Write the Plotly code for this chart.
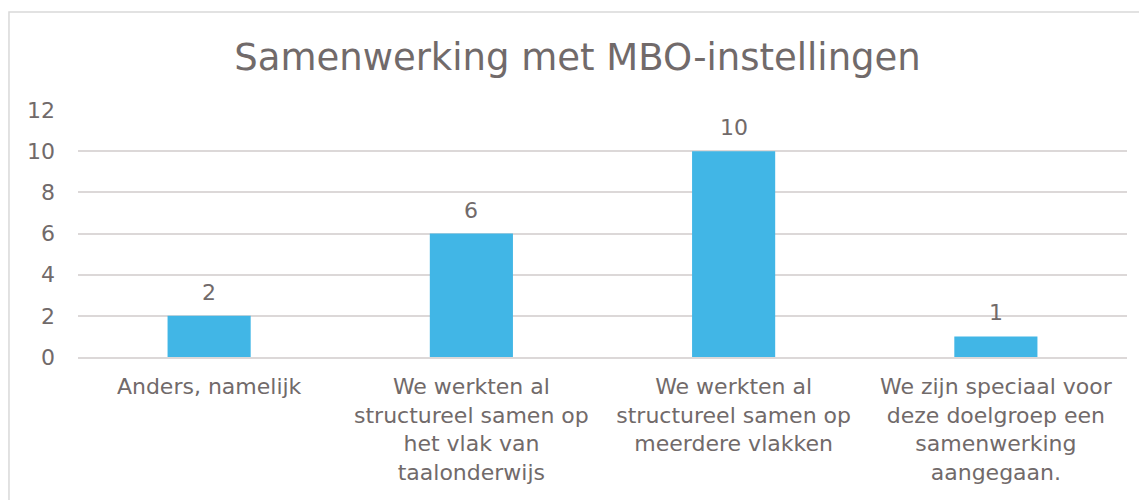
import plotly.graph_objects as go

# ----------------------------------------------------
# Data
# ----------------------------------------------------

categories = [
    "Anders, namelijk",
    "We werkten al<br>structureel samen op<br>het vlak van<br>taalonderwijs",
    "We werkten al<br>structureel samen op<br>meerdere vlakken",
    "We zijn speciaal voor<br>deze doelgroep een<br>samenwerking<br>aangegaan.",
]
counts = [2, 6, 10, 1]
y_ticks = [0, 2, 4, 6, 8, 10, 12]

TEXT = "#716a6a"
BAR = "#41b6e6"
GRID = "#dcd8d8"
FONT = "DejaVu Sans"

# ----------------------------------------------------
# Figure
# ----------------------------------------------------

fig = go.Figure(
    go.Bar(
        x=categories,
        y=counts,
        marker=dict(color=BAR, line=dict(width=0)),
    )
)

# value labels above bars
for cat, val in zip(categories, counts):
    fig.add_annotation(
        x=cat,
        y=val,
        text=str(val),
        showarrow=False,
        yanchor="bottom",
        yshift=9,
        font=dict(family=FONT, size=22, color=TEXT),
    )

# page body has an 8px margin, so the figure is sized to fit inside it
fig.update_layout(
    width=1139,
    height=492,
    plot_bgcolor="white",
    paper_bgcolor="white",
    margin=dict(l=70, r=20, t=102, b=143, autoexpand=False),
    bargap=0.683,
    showlegend=False,
    title=dict(
        text="Samenwerking met MBO-instellingen",
        x=0.5,
        xanchor="center",
        y=0.9,
        yanchor="middle",
        font=dict(family=FONT, size=37, color=TEXT),
    ),
    font=dict(family=FONT, color=TEXT),
)

fig.update_yaxes(
    range=[0, 12],
    tickvals=y_ticks,
    automargin=False,
    showgrid=True,
    gridcolor=GRID,
    gridwidth=1.5,
    zeroline=False,
    showline=False,
    ticks="",
    ticklen=0,
    tickfont=dict(family=FONT, size=22, color=TEXT),
    ticklabelstandoff=22,
)

fig.update_xaxes(
    automargin=False,
    showline=True,
    linecolor=GRID,
    linewidth=1.5,
    ticks="",
    tickfont=dict(family=FONT, size=22, color=TEXT),
    tickangle=0,
    ticklabelstandoff=9,
)

# chart border
fig.add_shape(
    type="rect",
    xref="paper",
    yref="paper",
    x0=-0.0658,
    x1=1.05,
    y0=-0.7,
    y1=1.397,
    line=dict(color="#d9d9d9", width=1.5),
    fillcolor="rgba(0,0,0,0)",
    layer="below",
)

fig.write_html("out.html")
